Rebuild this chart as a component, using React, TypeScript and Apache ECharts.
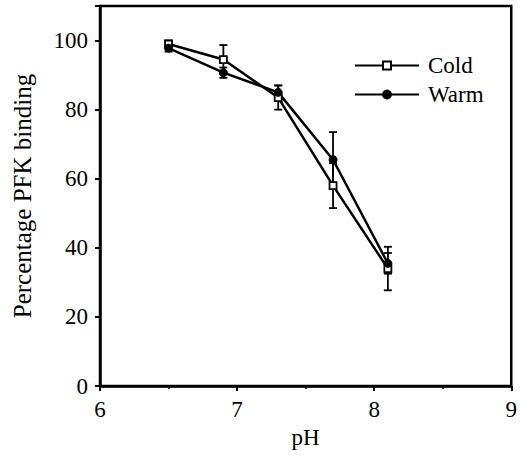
import React, { useEffect, useRef } from "react";
import * as echarts from "echarts";

const phValues = [6.5, 6.9, 7.3, 7.7, 8.1];
const coldMean = [99, 94.5, 83.5, 58, 34];
const coldErr = [1, 4.2, 3.5, 6.5, 6.3];
const warmMean = [97.8, 90.7, 85, 65.5, 35.5];
const warmErr = [1, 1.5, 2, 8, 3];
const seriesNames = ["Cold", "Warm"];

const FONT = "'Liberation Serif', 'Times New Roman', serif";
const FS = 23;

function errorData(means: number[], errs: number[]) {
  return phValues.map((x, i) => [x, means[i] - errs[i], means[i] + errs[i]]);
}

function errRender(params: any, api: any) {
  const x = api.value(0);
  const lo = api.value(1);
  const hi = api.value(2);
  const pLo = api.coord([x, lo]);
  const pHi = api.coord([x, hi]);
  const w = 4;
  const style = { stroke: "#000", lineWidth: 1.8, fill: "none" };
  return {
    type: "group",
    children: [
      { type: "line", shape: { x1: pLo[0], y1: pLo[1], x2: pHi[0], y2: pHi[1] }, style },
      { type: "line", shape: { x1: pLo[0] - w, y1: pLo[1], x2: pLo[0] + w, y2: pLo[1] }, style },
      { type: "line", shape: { x1: pHi[0] - w, y1: pHi[1], x2: pHi[0] + w, y2: pHi[1] }, style },
    ],
  };
}

export default function App() {
  const ref = useRef<HTMLDivElement>(null);
  useEffect(() => {
    if (!ref.current) return;
    const chart = echarts.init(ref.current, null, { renderer: "svg" });
    chart.setOption({
      animation: false,
      backgroundColor: "#fff",
      textStyle: { fontFamily: FONT, color: "#000" },
      grid: {
        left: 100,
        right: 3,
        top: 6,
        bottom: 73,
        show: true,
        borderColor: "#000",
        borderWidth: 2.5,
      },
      legend: {
        data: seriesNames,
        orient: "vertical",
        left: 354,
        top: 54,
        padding: 0,
        itemWidth: 64,
        itemHeight: 10,
        itemGap: 6,
        textStyle: { fontFamily: FONT, fontSize: FS, color: "#000", padding: [0, 0, 0, 4] },
      },
      xAxis: {
        type: "value",
        min: 6,
        max: 9,
        interval: 1,
        name: "pH",
        nameLocation: "middle",
        nameGap: 38,
        nameTextStyle: { fontFamily: FONT, fontSize: FS, color: "#000" },
        axisLine: { lineStyle: { color: "#000", width: 2.5 } },
        axisTick: { show: true, length: 5, lineStyle: { color: "#000", width: 2 } },
        minorTick: { show: true, splitNumber: 2, length: 3, lineStyle: { color: "#000", width: 1.5 } },
        axisLabel: { fontFamily: FONT, fontSize: FS, color: "#000", margin: 12 },
        splitLine: { show: false },
      },
      yAxis: {
        type: "value",
        min: 0,
        max: 110,
        interval: 20,
        name: "Percentage PFK binding",
        nameLocation: "middle",
        nameGap: 65,
        nameTextStyle: { fontFamily: FONT, fontSize: 25, color: "#000" },
        axisLine: { lineStyle: { color: "#000", width: 2.5 } },
        axisTick: { show: true, length: 5, lineStyle: { color: "#000", width: 2 } },
        axisLabel: {
          fontFamily: FONT,
          fontSize: FS,
          color: "#000",
          margin: 12,
          formatter: (v: number) => (v > 100 ? "" : String(v)),
        },
        splitLine: { show: false },
      },
      series: [
        {
          name: "Cold",
          type: "line",
          data: phValues.map((x, i) => [x, coldMean[i]]),
          symbol: "rect",
          symbolSize: 7,
          lineStyle: { color: "#000", width: 2.5 },
          itemStyle: { color: "#fff", borderColor: "#000", borderWidth: 1.8 },
          z: 3,
        },
        {
          name: "Warm",
          type: "line",
          data: phValues.map((x, i) => [x, warmMean[i]]),
          symbol: "circle",
          symbolSize: 8,
          lineStyle: { color: "#000", width: 2.5 },
          itemStyle: { color: "#000", borderColor: "#000", borderWidth: 1 },
          z: 3,
        },
        {
          name: "ColdErr",
          type: "custom",
          data: errorData(coldMean, coldErr),
          renderItem: errRender,
          encode: { x: 0, y: [1, 2] },
          z: 2,
        },
        {
          name: "WarmErr",
          type: "custom",
          data: errorData(warmMean, warmErr),
          renderItem: errRender,
          encode: { x: 0, y: [1, 2] },
          z: 2,
        },
      ],
    });
    return () => chart.dispose();
  }, []);
  return <div ref={ref} style={{ width: 520, height: 459, position: "absolute", left: 0, top: 0 }} />;
}
